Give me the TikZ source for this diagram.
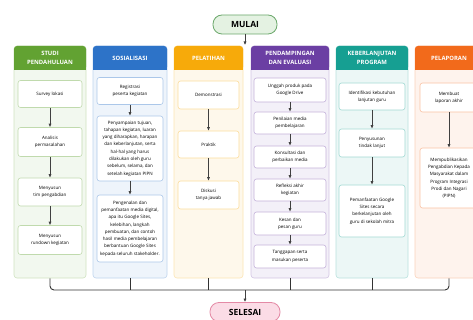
\documentclass[tikz,border=0pt]{standalone}
\usepackage{fontspec}
\setmainfont{Open Sans}
\usetikzlibrary{arrows.meta}
\definecolor{grnH}{HTML}{62A232}
\definecolor{bluH}{HTML}{2D73C8}
\definecolor{ylwH}{HTML}{F7AA0A}
\definecolor{prpH}{HTML}{6B3FA3}
\definecolor{tealH}{HTML}{169F92}
\definecolor{orgH}{HTML}{F26A1B}
\definecolor{startF}{HTML}{E4F2E2}
\definecolor{startD}{HTML}{6BA86B}
\definecolor{endF}{HTML}{FBDCE6}
\definecolor{endD}{HTML}{E48AA6}
\begin{document}
\begin{tikzpicture}[x=1pt,y=-1pt,
    colbody/.style={draw=#1!30, fill=#1!8, rounded corners=3pt, line width=0.6pt},
    colhead/.style={fill=#1, rounded corners=3pt, text=white, align=center,
      font=\bfseries\fontsize{5.9}{9.5}\selectfont, minimum height=24pt, inner sep=0pt},
    stepbox/.style={draw=#1!40, fill=white, rounded corners=2.5pt, line width=0.6pt,
      align=center, font=\fontsize{4.5}{7.3}\selectfont, inner sep=1pt},
    endpill/.style={rounded corners=9pt, line width=0.8pt, minimum height=19pt,
      font=\bfseries\fontsize{8.5}{10}\selectfont},
    flow/.style={-{Latex[length=3.5pt,width=3.2pt]}, line width=0.8pt, draw=black!75},
    bus/.style={line width=0.9pt, draw=black!80}]
  \useasboundingbox (0,0) rectangle (473,320);
  \fill[white] (0,0) rectangle (473,320);

  % start and end
  \node[endpill, draw=startD, fill=startF, minimum width=64pt] (mulai) at (245,24.5) {MULAI};
  \coordinate (topin) at (245,45);
  \draw[flow] (mulai.south) -- (topin);

  % column bodies
  \node[colbody=grnH, minimum width=72pt, minimum height=232pt] (studi) at (50,162) {};
  \node[colbody=bluH, minimum width=74pt, minimum height=232pt] (sosial) at (130,162) {};
  \node[colbody=ylwH, minimum width=69pt, minimum height=232pt] (latih) at (208.5,162) {};
  \node[colbody=prpH, minimum width=78pt, minimum height=232pt] (damping) at (290,162) {};
  \node[colbody=tealH, minimum width=72pt, minimum height=232pt] (lanjut) at (372,162) {};
  \node[colbody=orgH, minimum width=68pt, minimum height=232pt] (lapor) at (449,162) {};

  % column headers
  \fill[grnH] (14,60) rectangle (86,70);
  \fill[bluH] (93,60) rectangle (167,70);
  \fill[ylwH] (174,60) rectangle (243,70);
  \fill[prpH] (251,60) rectangle (329,70);
  \fill[tealH] (336,60) rectangle (408,70);
  \fill[orgH] (415,60) rectangle (483,70);
  \node[colhead=grnH, minimum width=72pt] (studi-h) at (50,58) {STUDI\\PENDAHULUAN};
  \node[colhead=bluH, minimum width=74pt] (sosial-h) at (130,58) {SOSIALISASI};
  \node[colhead=ylwH, minimum width=69pt] (latih-h) at (208.5,58) {PELATIHAN};
  \node[colhead=prpH, minimum width=78pt] (damping-h) at (290,58) {PENDAMPINGAN\\DAN EVALUASI};
  \node[colhead=tealH, minimum width=72pt] (lanjut-h) at (372,58) {KEBERLANJUTAN\\PROGRAM};
  \node[colhead=orgH, minimum width=68pt] (lapor-h) at (449,58) {PELAPORAN};

  % studi pendahuluan
  \node[stepbox=grnH, minimum width=64pt, minimum height=27pt] (s1) at (50,94) {Survey lokasi};
  \node[stepbox=grnH, minimum width=64pt, minimum height=29pt] (s2) at (50,142) {Analisis\\permasalahan};
  \node[stepbox=grnH, minimum width=64pt, minimum height=28pt] (s3) at (50,192) {Menyusun\\tim pengabdian};
  \node[stepbox=grnH, minimum width=64pt, minimum height=29pt] (s4) at (50,240) {Menyusun\\rundown kegiatan};
  \draw[flow] (s1) -- (s2);
  \draw[flow] (s2) -- (s3);
  \draw[flow] (s3) -- (s4);

  % sosialisasi
  \node[stepbox=bluH, minimum width=66pt, minimum height=27pt] (o1) at (130,91) {Registrasi\\peserta kegiatan};
  \node[stepbox=bluH, minimum width=66pt, minimum height=65pt] (o2) at (130,148.5)
    {Penyampaian tujuan,\\tahapan kegiatan, luaran\\yang diharapkan, harapan\\dan keberlanjutan, serta\\hal-hal yang harus\\dilakukan oleh guru\\sebelum, selama, dan\\setelah kegiatan PIPN};
  \node[stepbox=bluH, minimum width=66pt, minimum height=67pt] (o3) at (130,228.5)
    {Pengenalan dan\\pemanfaatan media digital,\\apa itu Google Sites,\\kelebihan, langkah\\pembuatan, dan contoh\\hasil media pembelajaran\\berbantuan Google Sites\\kepada seluruh stakeholder.};
  \draw[flow] (o1) -- (o2);
  \draw[flow] (o2) -- (o3);

  % pelatihan
  \node[stepbox=ylwH, minimum width=61pt, minimum height=28pt] (p1) at (208.5,95) {Demonstrasi};
  \node[stepbox=ylwH, minimum width=61pt, minimum height=27pt] (p2) at (208.5,144.5) {Praktik};
  \node[stepbox=ylwH, minimum width=61pt, minimum height=28pt] (p3) at (208.5,195) {Diskusi\\tanya jawab};
  \draw[flow] (p1) -- (p2);
  \draw[flow] (p2) -- (p3);

  % pendampingan dan evaluasi
  \node[stepbox=prpH, minimum width=72pt, minimum height=24pt] (d1) at (290,90) {Unggah produk pada\\Google Drive};
  \node[stepbox=prpH, minimum width=72pt, minimum height=22pt] (d2) at (290,123) {Penilaian media\\pembelajaran};
  \node[stepbox=prpH, minimum width=72pt, minimum height=22pt] (d3) at (290,157) {Konsultasi dan\\perbaikan media};
  \node[stepbox=prpH, minimum width=72pt, minimum height=22pt] (d4) at (290,190) {Refleksi akhir\\kegiatan};
  \node[stepbox=prpH, minimum width=72pt, minimum height=23pt] (d5) at (290,223.5) {Kesan dan\\pesan guru};
  \node[stepbox=prpH, minimum width=72pt, minimum height=23pt] (d6) at (290,256.5) {Tanggapan serta\\masukan peserta};
  \draw[flow] (d1) -- (d2);
  \draw[flow] (d2) -- (d3);
  \draw[flow] (d3) -- (d4);
  \draw[flow] (d4) -- (d5);
  \draw[flow] (d5) -- (d6);

  % keberlanjutan program
  \node[stepbox=tealH, minimum width=66pt, minimum height=27pt] (k1) at (372,96.5) {Identifikasi kebutuhan\\lanjutan guru};
  \node[stepbox=tealH, minimum width=66pt, minimum height=28pt] (k2) at (372,143) {Penyusunan\\tindak lanjut};
  \node[stepbox=tealH, minimum width=66pt, minimum height=52pt] (k3) at (372,211)
    {Pemanfaatan Google\\Sites secara\\berkelanjutan oleh\\guru di sekolah mitra};
  \draw[flow] (k1) -- (k2);
  \draw[flow] (k2) -- (k3);

  % pelaporan
  \node[stepbox=orgH, minimum width=58pt, minimum height=29pt] (l1) at (449,97.5) {Membuat\\laporan akhir};
  \node[stepbox=orgH, minimum width=58pt, minimum height=60pt] (l2) at (449,178)
    {Mempublikasikan\\Pengabdian Kepada\\Masyarakat dalam\\Program Integrasi\\Prodi dan Nagari\\(PIPN)};
  \draw[flow] (l1) -- (l2);

  % collecting line
  \coordinate (busmid) at (245,290);
  \draw[bus, rounded corners=4pt] (studi.south) |- (lapor.south |- busmid) -- (lapor.south);
  \draw[bus] (sosial.south) -- (sosial.south |- busmid);
  \draw[bus] (latih.south) -- (latih.south |- busmid);
  \draw[bus] (damping.south) -- (damping.south |- busmid);
  \draw[bus] (lanjut.south) -- (lanjut.south |- busmid);

  \node[endpill, draw=endD, fill=endF, minimum width=70pt] (selesai) at (245,312) {SELESAI};
  \draw[flow] (busmid) -- (selesai.north);
\end{tikzpicture}
\end{document}
